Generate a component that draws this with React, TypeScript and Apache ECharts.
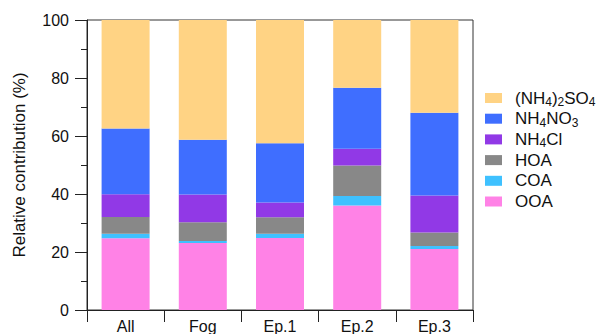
import React, { useEffect, useRef } from "react";
import * as echarts from "echarts";

const categories = ["All", "Fog", "Ep.1", "Ep.2", "Ep.3"];
const ooa = [24.7, 23.1, 24.8, 36.0, 21.0];
const coa = [1.6, 0.7, 1.5, 3.3, 1.1];
const hoa = [5.8, 6.5, 5.7, 10.5, 4.6];
const nh4cl = [7.8, 9.5, 5.1, 5.8, 12.8];
const nh4no3 = [22.7, 18.9, 20.4, 21.0, 28.5];
const so4 = [37.4, 41.3, 42.5, 23.4, 32.0];

const seriesNames = ["OOA", "COA", "HOA", "NH4Cl", "NH4NO3", "(NH4)2SO4"];
const seriesData = [ooa, coa, hoa, nh4cl, nh4no3, so4];
const seriesColors = ["#FF82E6", "#3FC1FF", "#888888", "#9139E6", "#3F6EFF", "#FFD384"];
const legendOrder = ["(NH4)2SO4", "NH4NO3", "NH4Cl", "HOA", "COA", "OOA"];
const legendRich: Record<string, string> = {
  "(NH4)2SO4": "(NH{s|4}){s|2}SO{s|4}",
  NH4NO3: "NH{s|4}NO{s|3}",
  NH4Cl: "NH{s|4}Cl",
};

const FONT = "'Liberation Sans', Arial, Helvetica, sans-serif";

export default function App() {
  const ref = useRef<HTMLDivElement>(null);
  useEffect(() => {
    if (!ref.current) return;
    const chart = echarts.init(ref.current, null, { renderer: "svg" });
    chart.setOption({
      animation: false,
      backgroundColor: "#ffffff",
      textStyle: { fontFamily: FONT },
      grid: {
        left: 87,
        top: 20,
        width: 386,
        height: 290,
        show: true,
        borderColor: "#333",
        borderWidth: 1,
        backgroundColor: "transparent",
        containLabel: false,
      },
      legend: {
        orient: "vertical",
        left: 485,
        top: 88,
        padding: 0,
        itemWidth: 17,
        itemHeight: 10,
        itemGap: 0.7,
        icon: "rect",
        data: legendOrder,
        selectedMode: false,
        formatter: (name: string) => legendRich[name] || name,
        textStyle: {
          fontFamily: FONT,
          fontSize: 17,
          lineHeight: 20,
          color: "#111",
          padding: [0, 0, 0, 8],
          rich: {
            s: { fontFamily: FONT, fontSize: 12, lineHeight: 12, verticalAlign: "bottom", color: "#111" },
          },
        },
      },
      xAxis: {
        type: "category",
        data: categories,
        boundaryGap: true,
        axisLine: { show: true, lineStyle: { color: "#222", width: 1 } },
        axisTick: { show: true, alignWithLabel: false, length: 12, interval: 0, lineStyle: { color: "#222" } },
        axisLabel: { fontSize: 16, color: "#111", margin: 8, fontFamily: FONT, interval: 0 },
        splitLine: { show: false },
      },
      yAxis: {
        type: "value",
        min: 0,
        max: 100,
        interval: 20,
        name: "Relative contribution (%)",
        nameLocation: "middle",
        nameGap: 59,
        nameRotate: 90,
        nameTextStyle: { fontSize: 17, color: "#111", fontFamily: FONT },
        axisLine: { show: true, lineStyle: { color: "#222", width: 1 } },
        axisTick: { show: true, length: 12, lineStyle: { color: "#222" } },
        minorTick: { show: true, splitNumber: 2, length: 6, lineStyle: { color: "#222" } },
        axisLabel: { fontSize: 16, color: "#111", margin: 18, fontFamily: FONT },
        splitLine: { show: false },
        minorSplitLine: { show: false },
      },
      series: seriesNames.map((name, i) => ({
        name,
        type: "bar",
        stack: "total",
        barWidth: 48,
        data: seriesData[i],
        itemStyle: { color: seriesColors[i] },
        emphasis: { disabled: true },
      })),
    });
    return () => chart.dispose();
  }, []);
  return (
    <div
      ref={ref}
      style={{ position: "fixed", left: 0, top: 0, width: 597, height: 334, background: "#fff" }}
    />
  );
}
